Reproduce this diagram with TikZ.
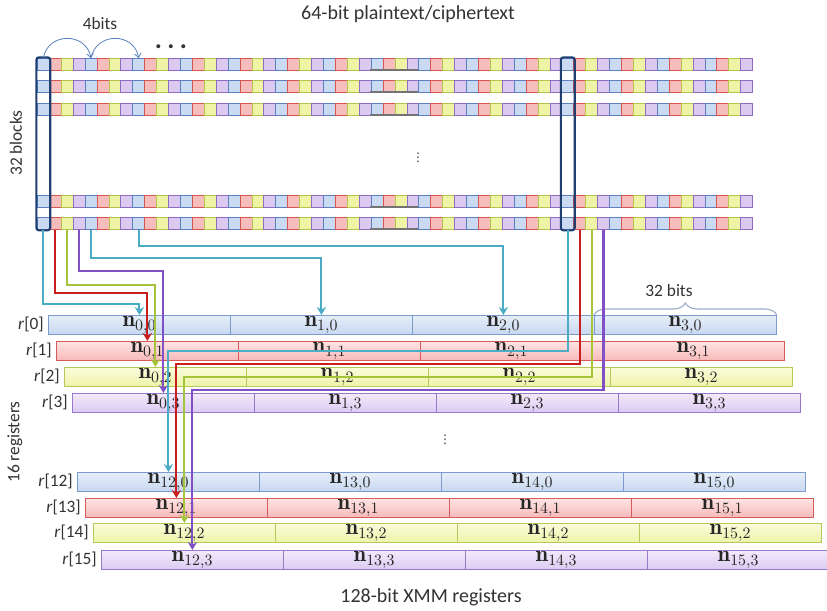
\documentclass[tikz,border=0pt]{standalone}
\usepackage{fix-cm}
\usepackage{fontspec}
\newfontfamily\calib{Carlito}
\newfontfamily\dejavu{DejaVu Sans}
\usetikzlibrary{arrows.meta,decorations.pathreplacing,fit}

\definecolor{cellfill0}{HTML}{C9DAF2}\definecolor{celldraw0}{HTML}{5B7FBF}
\definecolor{cellfill1}{HTML}{F6BDBD}\definecolor{celldraw1}{HTML}{D9534F}
\definecolor{cellfill2}{HTML}{EEF3A6}\definecolor{celldraw2}{HTML}{B5C44A}
\definecolor{cellfill3}{HTML}{DCC9F0}\definecolor{celldraw3}{HTML}{8E6CC0}
\definecolor{regtop0}{HTML}{E6EEF9}\definecolor{regbot0}{HTML}{C8D8F0}\definecolor{regdraw0}{HTML}{7B9BD0}
\definecolor{regtop1}{HTML}{FEE4E4}\definecolor{regbot1}{HTML}{F8B9B9}\definecolor{regdraw1}{HTML}{D65C5C}
\definecolor{regtop2}{HTML}{FAFCDC}\definecolor{regbot2}{HTML}{EEF3A8}\definecolor{regdraw2}{HTML}{B6C85A}
\definecolor{regtop3}{HTML}{F2EAFB}\definecolor{regbot3}{HTML}{DCCBF2}\definecolor{regdraw3}{HTML}{9878C8}
\definecolor{flow0}{HTML}{4BACC6}\definecolor{flow1}{HTML}{C81E1E}
\definecolor{flow2}{HTML}{A5C43A}\definecolor{flow3}{HTML}{8050C4}
\definecolor{navybox}{HTML}{1F3F70}
\definecolor{hopblue}{HTML}{5A82BE}
\definecolor{bracegray}{HTML}{9AACC8}
\definecolor{inkgray}{HTML}{333333}

\begin{document}
\begin{tikzpicture}[
  x=0.75pt, y=-0.75pt,
  cell/.style={draw=celldraw#1, fill=cellfill#1, line width=0.5pt,
    minimum width=8.94pt, minimum height=9pt, inner sep=0pt, anchor=north west},
  regseg/.style={draw=regdraw#1, top color=regtop#1, bottom color=regbot#1,
    line width=0.6pt, minimum width=136.5pt, minimum height=14.25pt,
    inner sep=0pt, anchor=north west, text=black!85, font=\fontsize{17}{17}\selectfont},
  reglabel/.style={anchor=east, inner sep=0pt, text=inkgray, font=\calib\fontsize{13}{15}\selectfont},
  caption/.style={inner sep=0pt, text=inkgray, font=\calib\fontsize{15}{17}\selectfont},
  small/.style={inner sep=0pt, text=inkgray, font=\calib\fontsize{13}{15}\selectfont},
  vdotsmark/.style={inner sep=0pt, text=inkgray, font=\dejavu\fontsize{9}{9}\selectfont},
  colbox/.style={draw=navybox, line width=1.6pt, rounded corners=2pt, inner sep=0.5pt},
  hop/.style={draw=hopblue, line width=0.6pt, -{Straight Barb[length=3pt,width=5pt]}},
  flow/.style={draw=flow#1, line width=1.6pt,
    -{Stealth[length=6pt,width=7pt,inset=2pt]}},
  smudge/.style={draw=black!55, line width=0.9pt}
]
\path[use as bounding box, fill=white] (0,0) rectangle (827,610);

% plaintext blocks
\foreach \row/\rowy in {1/58, 2/80, 3/103, 4/195, 5/217} {
  \foreach \i in {0,...,59} {
    \pgfmathtruncatemacro\c{mod(\i,4)}
    \node[cell=\c] (b\row-\i) at ({37+11.92*\i},\rowy) {};
  }
  \draw[smudge] (370,{\rowy+12}) -- (418,{\rowy+12});
}
\node[colbox, fit=(b1-0)(b5-0)] (col0) {};
\node[colbox, fit=(b1-44)(b5-44)] (col44) {};

\node[caption] (title) at (408,14) {64-bit plaintext/ciphertext};
\node[small] (fourbits) at (100,24) {4bits};
\node[inner sep=0pt, text=inkgray, font=\calib\fontsize{20}{20}\selectfont\bfseries] (more) at (171,47)
  {.\hspace{4pt}.\hspace{4pt}.};
\draw[hop] (b1-0.north) .. controls (48,32) and (86,32) .. (b1-4.north);
\draw[hop] (b1-4.north) .. controls (96,32) and (134,32) .. (b1-8.north);
\node[small, rotate=90] (blocks) at (16,143) {32 blocks};
\node[vdotsmark] (vdotsa) at (418,158) {⋮};

% XMM registers
\foreach \j/\lx/\ly/\base in {0/48/315/0, 1/56/341/0, 2/64/367/0, 3/72/393/0,
    12/77/472/12, 13/85/498/12, 14/93/523/12, 15/101/550/12} {
  \pgfmathtruncatemacro\b{\j-\base}
  \node[reglabel] (lab\j) at ({\lx-4},{\ly+9.5}) {\textit{r}[\j]};
  \foreach \k in {0,...,3} {
    \pgfmathtruncatemacro\n{\base+\k}
    \node[regseg=\b] (s\j-\k) at ({\lx+182*\k},\ly) {$\mathbf{n}_{\n,\b}$};
  }
}
\node[vdotsmark] (vdotsb) at (445,440) {⋮};
\node[small, rotate=90] (regs) at (15,442) {16 registers};
\node[caption] (foot) at (431,597) {128-bit XMM registers};

\draw[draw=bracegray, line width=0.8pt, decorate, decoration={brace, amplitude=9pt}]
  (s0-3.north west) -- (s0-3.north east);
\node[small] (bitslbl) at (669,291) {32 bits};

% bit columns into registers
\foreach \src/\dy/\dst/\c in {0/74/s0-0/0, 1/63/s1-0/1, 2/55/s2-0/2, 3/41/s3-0/3,
    4/28/s0-1/0, 8/16/s0-2/0, 44/121/s12-0/0, 45/134/s13-0/1, 46/147/s14-0/2, 47/160/s15-0/3}
  \draw[flow=\c] (b5-\src.south) -- ++(0,\dy) -| (\dst.north);
\end{tikzpicture}
\end{document}
